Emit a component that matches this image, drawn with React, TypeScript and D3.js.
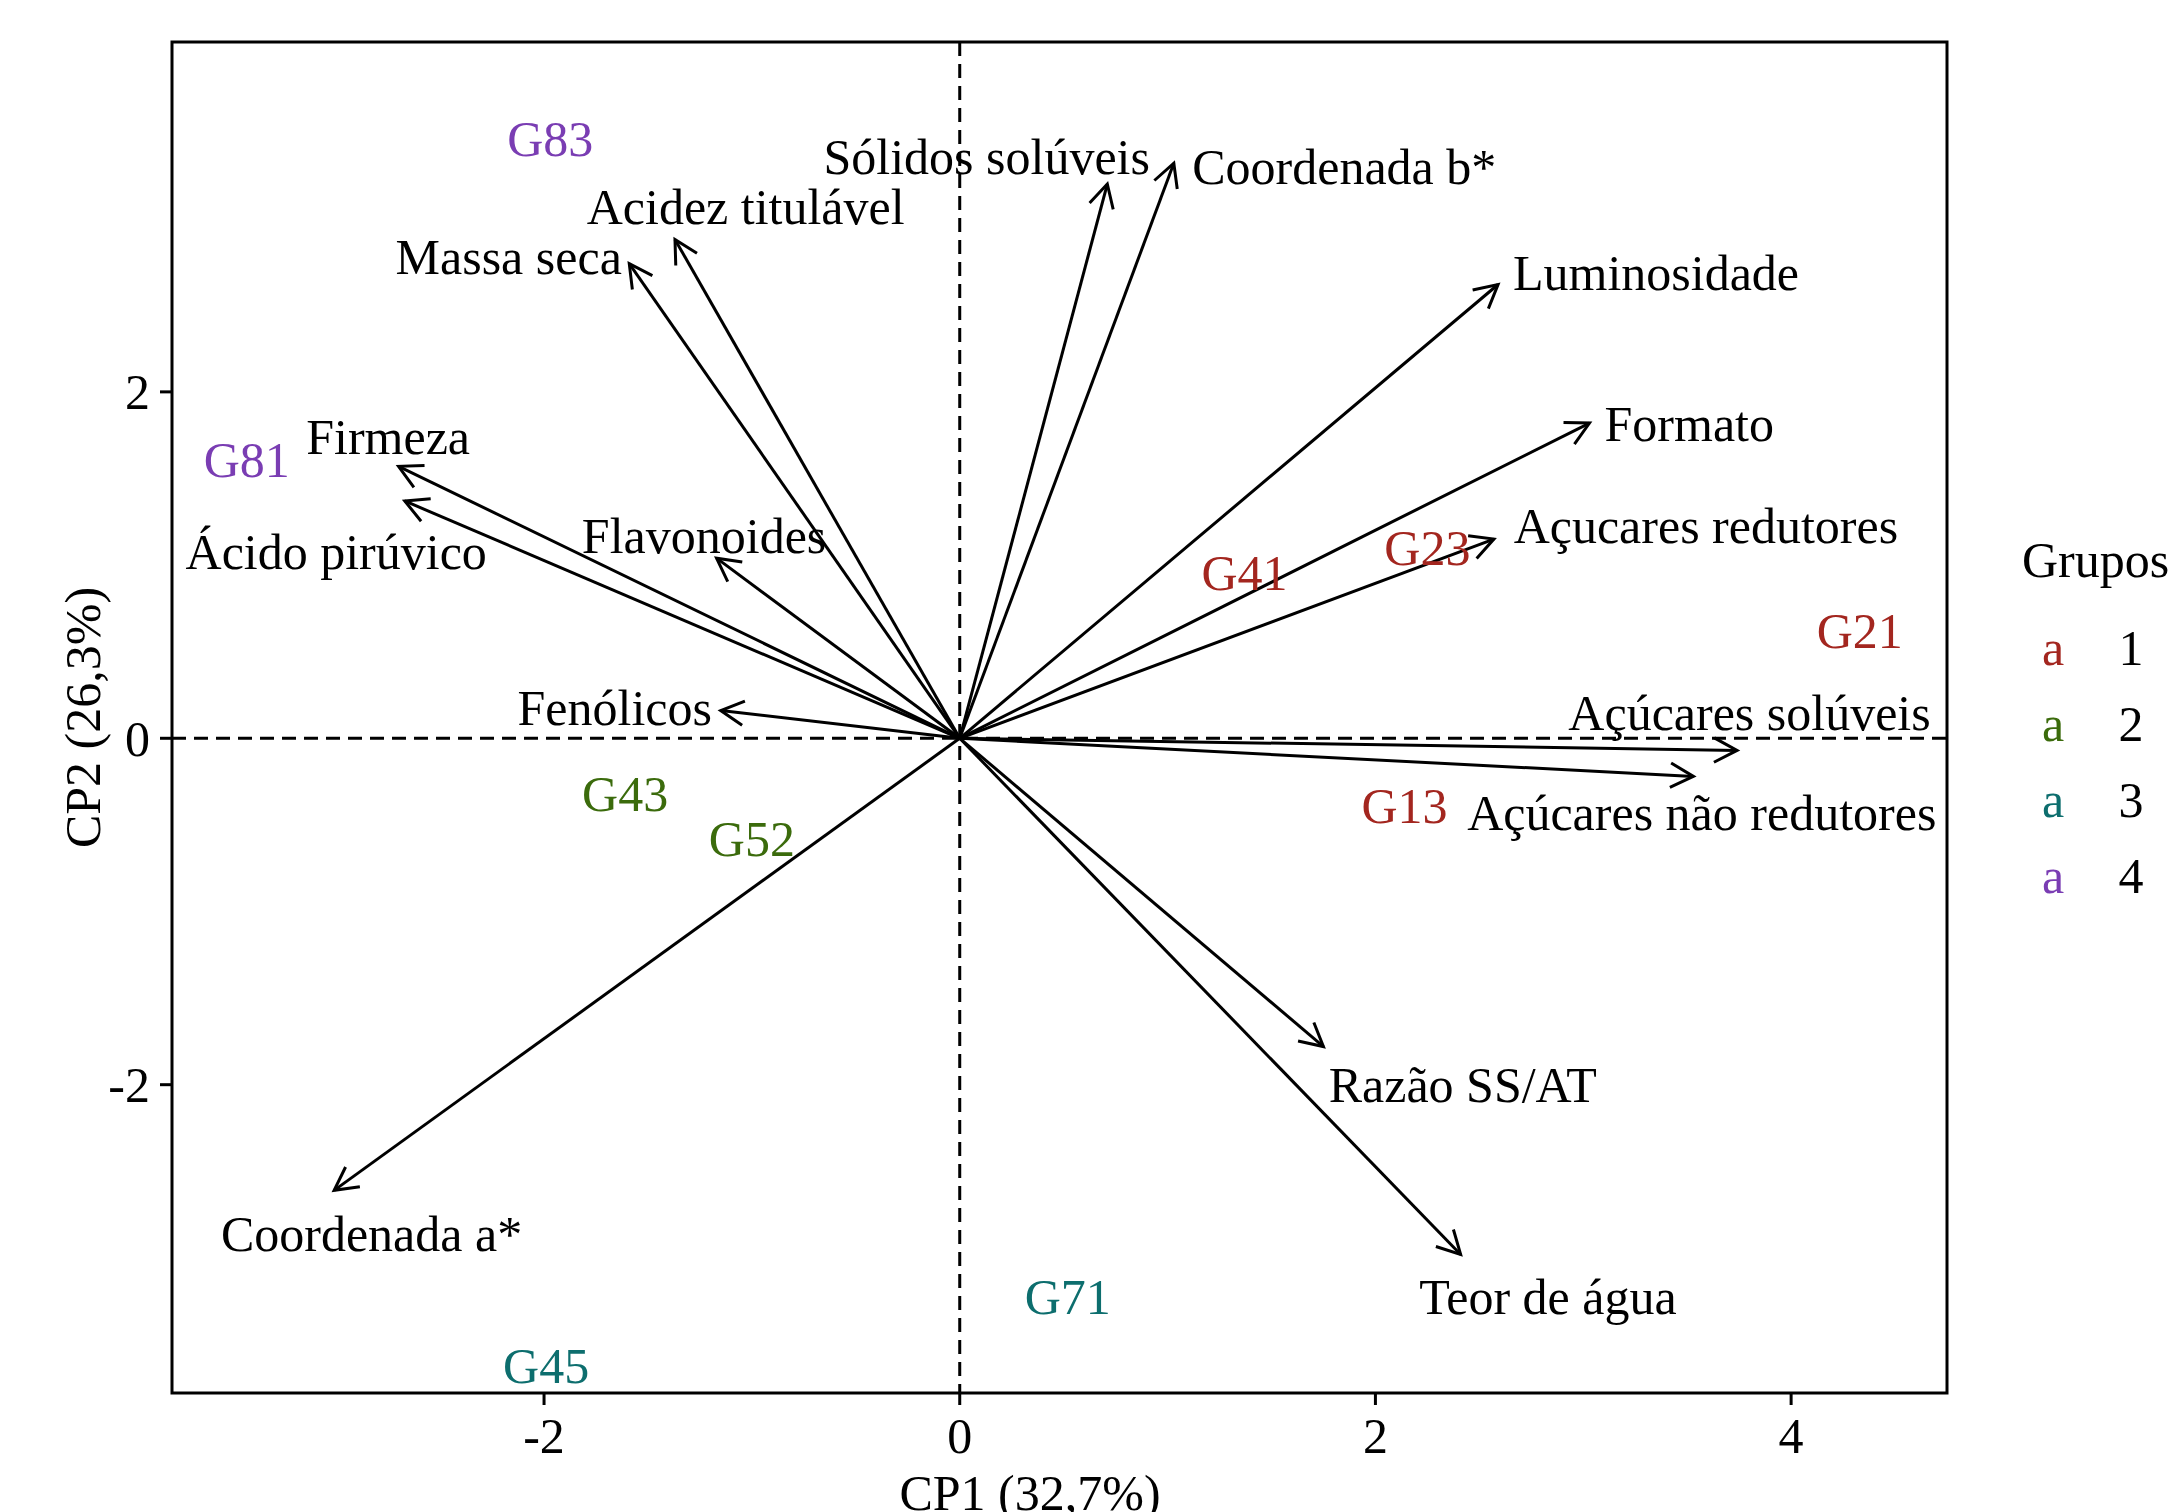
import React from 'react';
import * as d3 from 'd3';

// variable loadings (arrow tips) and where their labels sit
const variables = [
  'Sólidos solúveis', 'Coordenada b*', 'Acidez titulável', 'Massa seca', 'Luminosidade', 'Formato',
  'Açucares redutores', 'Firmeza', 'Ácido pirúvico', 'Flavonoides', 'Fenólicos', 'Açúcares solúveis',
  'Açúcares não redutores', 'Razão SS/AT', 'Teor de água', 'Coordenada a*',
];
const loadX = [0.71, 1.03, -1.37, -1.59, 2.59, 3.03, 2.57, -2.7, -2.67, -1.17, -1.15, 3.74, 3.53, 1.75, 2.41, -3.01];
const loadY = [3.2, 3.32, 2.88, 2.74, 2.62, 1.82, 1.15, 1.57, 1.37, 1.04, 0.16, -0.07, -0.22, -1.78, -2.98, -2.61];
const labelX = [0.13, 1.85, -1.03, -2.17, 3.35, 3.51, 3.59, -2.75, -3.0, -1.23, -1.66, 3.8, 3.57, 2.42, 2.83, -2.83];
const labelY = [3.36, 3.3, 3.07, 2.78, 2.69, 1.82, 1.23, 1.74, 1.08, 1.17, 0.18, 0.15, -0.43, -2.0, -3.22, -2.86];

// genotype scores
const genotypes = ['G83', 'G81', 'G41', 'G23', 'G21', 'G13', 'G43', 'G52', 'G71', 'G45'];
const scoreX = [-1.97, -3.43, 1.37, 2.25, 4.33, 2.14, -1.61, -1.0, 0.52, -1.99];
const scoreY = [3.46, 1.61, 0.96, 1.1, 0.62, -0.39, -0.32, -0.58, -3.22, -3.62];
const groupOf = ['4', '4', '1', '1', '1', '1', '2', '2', '3', '3'];

const groups = ['1', '2', '3', '4'];
const groupColors = ['#a3261f', '#3b6b0c', '#0d6e6e', '#7a3db3'];
const xTicks = [-2, 0, 2, 4];
const yTicks = [-2, 0, 2];

const W = 2174;
const H = 1512;
const margin = { top: 42, right: 227, bottom: 119, left: 172 };
const FONT = '"Liberation Serif", "Times New Roman", serif';
const FS = 50;

export default function App() {
  const x = d3.scaleLinear().domain([-3.79, 4.75]).range([margin.left, W - margin.right]);
  const y = d3.scaleLinear().domain([-3.78, 4.02]).range([H - margin.bottom, margin.top]);
  const color = d3.scaleOrdinal<string, string>().domain(groups).range(groupColors);

  const x0 = x(0);
  const y0 = y(0);

  // open arrowhead at the tip
  const head = (tx: number, ty: number) => {
    const ang = Math.atan2(ty - y0, tx - x0);
    const len = 26;
    const spread = (28 * Math.PI) / 180;
    const a1 = ang + Math.PI - spread;
    const a2 = ang + Math.PI + spread;
    return `M${tx + len * Math.cos(a1)},${ty + len * Math.sin(a1)}L${tx},${ty}L${tx + len * Math.cos(a2)},${ty + len * Math.sin(a2)}`;
  };

  return (
    <svg width={W} height={H} style={{ position: 'absolute', left: 0, top: 0, background: '#fff' }} fontFamily={FONT}>
      {/* reference lines */}
      <line x1={margin.left} x2={W - margin.right} y1={y0} y2={y0} stroke="#000" strokeWidth={3} strokeDasharray="14,8" />
      <line x1={x0} x2={x0} y1={margin.top} y2={H - margin.bottom} stroke="#000" strokeWidth={3} strokeDasharray="14,8" />

      {/* loading arrows */}
      {variables.map((v, i) => {
        const tx = x(loadX[i]);
        const ty = y(loadY[i]);
        return (
          <g key={v}>
            <line x1={x0} y1={y0} x2={tx} y2={ty} stroke="#000" strokeWidth={3} />
            <path d={head(tx, ty)} fill="none" stroke="#000" strokeWidth={3} />
          </g>
        );
      })}

      {/* variable labels */}
      {variables.map((v, i) => (
        <text key={'l' + v} x={x(labelX[i])} y={y(labelY[i])} dy="0.35em" textAnchor="middle" fontSize={FS} fill="#000">
          {v}
        </text>
      ))}

      {/* genotype labels */}
      {genotypes.map((g, i) => (
        <text key={g} x={x(scoreX[i])} y={y(scoreY[i])} dy="0.35em" textAnchor="middle" fontSize={FS} fill={color(groupOf[i])}>
          {g}
        </text>
      ))}

      {/* panel border */}
      <rect x={margin.left} y={margin.top} width={W - margin.right - margin.left} height={H - margin.bottom - margin.top} fill="none" stroke="#000" strokeWidth={3} />

      {/* x axis */}
      {xTicks.map((t) => (
        <g key={'x' + t}>
          <line x1={x(t)} x2={x(t)} y1={H - margin.bottom} y2={H - margin.bottom + 12} stroke="#000" strokeWidth={3} />
          <text x={x(t)} y={1453} textAnchor="middle" fontSize={FS} fill="#000">{t}</text>
        </g>
      ))}
      <text x={1030} y={1510} textAnchor="middle" fontSize={FS} fill="#000">CP1 (32,7%)</text>

      {/* y axis */}
      {yTicks.map((t) => (
        <g key={'y' + t}>
          <line x1={margin.left - 12} x2={margin.left} y1={y(t)} y2={y(t)} stroke="#000" strokeWidth={3} />
          <text x={150} y={y(t)} dy="0.35em" textAnchor="end" fontSize={FS} fill="#000">{t}</text>
        </g>
      ))}
      <text transform={`translate(100,${(margin.top + H - margin.bottom) / 2}) rotate(-90)`} textAnchor="middle" fontSize={FS} fill="#000">
        CP2 (26,3%)
      </text>

      {/* legend */}
      <text x={2022} y={577} fontSize={FS} fill="#000">Grupos</text>
      {groups.map((g, i) => (
        <g key={'g' + g}>
          <text x={2053} y={647 + i * 76} dy="0.35em" textAnchor="middle" fontSize={FS} fill={color(g)}>a</text>
          <text x={2131} y={647 + i * 76} dy="0.35em" textAnchor="middle" fontSize={FS} fill="#000">{g}</text>
        </g>
      ))}
    </svg>
  );
}
